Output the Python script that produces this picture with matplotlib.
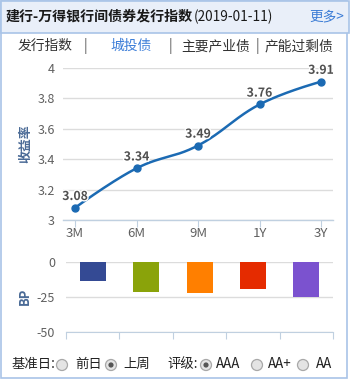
import numpy as np
import matplotlib
matplotlib.use("Agg")
import matplotlib.pyplot as plt
from matplotlib.patches import Rectangle, Circle
import matplotlib.patheffects as pe

plt.rcParams['font.family'] = ['Noto Sans CJK SC', 'DejaVu Sans']

# ---- data ----
terms = ["3M", "6M", "9M", "1Y", "3Y"]
yields = [3.08, 3.34, 3.49, 3.76, 3.91]
bp_change = [-13.4, -21.3, -21.9, -19.1, -24.8]
bar_colors = ["#344a94", "#8aa30a", "#ff7f00", "#e52b00", "#7b52cf"]
y_ticks = [3, 3.2, 3.4, 3.6, 3.8, 4]
bp_ticks = [0, -25, -50]
tabs = ["发行指数", "城投债", "主要产业债", "产能过剩债"]

W, H = 350, 379
fig = plt.figure(figsize=(W / 100, H / 100), dpi=100)
fig.patch.set_facecolor("white")

def fax(l, t, r, b):
    return fig.add_axes([l / W, 1 - b / H, (r - l) / W, (b - t) / H])

# full-figure overlay in pixel coordinates
ov = fig.add_axes([0, 0, 1, 1], zorder=-1)
ov.set_xlim(0, W)
ov.set_ylim(H, 0)
ov.axis("off")

border = "#a9c4e8"
ov.add_patch(Rectangle((0.5, 0.5), 346.5, 377, fill=False, ec=border, lw=1.2))
ov.add_patch(Rectangle((0.5, 0.5), 348, 32, fc="#e9eff9", ec=border, lw=1.2))

title = ov.text(6, 17, "建行-万得银行间债券发行指数", fontsize=10.1, fontweight="bold",
                color="#1a1a1a", va="center", ha="left")
ov.annotate("(2019-01-11)", xy=(1, 0.5), xycoords=title, xytext=(0.5, 0),
            textcoords="offset points", fontsize=9.8, color="#1a1a1a",
            va="center", ha="left")
ov.text(344, 16, "更多>", fontsize=9.8, color="#3a7bd5", va="center", ha="right")

# tab row
tab_x = [18, 110, 181, 265]
tab_col = ["#333333", "#3b7dd8", "#333333", "#333333"]
for x, t, c in zip(tab_x, tabs, tab_col):
    ov.text(x, 46, t, fontsize=9.9, color=c, va="center", ha="left")
for x in [85, 170, 257]:
    ov.text(x, 46, "|", fontsize=9.9, color="#555555", va="center", ha="center")

# ---- line chart ----
ax = fax(63, 68, 333, 220)
xs = np.arange(len(terms))
ax.set_xlim(-12 / 61.5, 4 + 12 / 61.5)
ax.set_ylim(3, 4)


def spline(xv, yv, smoothing=1.5, n=40):
    xv = np.asarray(xv, float)
    yv = np.asarray(yv, float)
    m = len(xv)
    lc = [(xv[i], yv[i]) for i in range(m)]
    rc = [(xv[i], yv[i]) for i in range(m)]
    d = smoothing + 1
    for i in range(1, m - 1):
        lx = (smoothing * xv[i] + xv[i - 1]) / d
        ly = (smoothing * yv[i] + yv[i - 1]) / d
        rx = (smoothing * xv[i] + xv[i + 1]) / d
        ry = (smoothing * yv[i] + yv[i + 1]) / d
        if rx != lx:
            corr = (ry - ly) * (rx - xv[i]) / (rx - lx) + yv[i] - ry
            ly += corr
            ry += corr
        lc[i] = (lx, ly)
        rc[i] = (rx, ry)
    px, py = [], []
    t = np.linspace(0, 1, n)
    for i in range(m - 1):
        p0 = np.array([xv[i], yv[i]])
        p1 = np.array(rc[i])
        p2 = np.array(lc[i + 1])
        p3 = np.array([xv[i + 1], yv[i + 1]])
        pts = ((1 - t) ** 3)[:, None] * p0 + (3 * (1 - t) ** 2 * t)[:, None] * p1 \
            + (3 * (1 - t) * t ** 2)[:, None] * p2 + (t ** 3)[:, None] * p3
        px.extend(pts[:, 0])
        py.extend(pts[:, 1])
    return px, py


sx, sy = spline(xs, yields)
line_col = "#1b6ab3"
ax.plot(sx, sy, color=line_col, lw=1.8, zorder=3, clip_on=False)
ax.plot(xs, yields, "o", color=line_col, ms=5, zorder=4, clip_on=False)
for x, v in zip(xs, yields):
    ax.annotate(f"{v:.2f}", (x, v), xytext=(0, 3.5), textcoords="offset points",
                ha="center", va="bottom", fontsize=8.8, fontweight="bold",
                color="#505050", zorder=5,
                path_effects=[pe.withStroke(linewidth=2, foreground="white")])

ax.set_yticks(y_ticks)
ax.set_yticklabels([f"{v:g}" for v in y_ticks])
ax.set_xticks(xs)
ax.set_xticklabels(terms)
ax.grid(axis="y", color="#dcdcdc", lw=1)
ax.set_axisbelow(True)
for s in ["top", "right", "left"]:
    ax.spines[s].set_visible(False)
ax.spines["bottom"].set_color("#c0d0e0")
ax.spines["bottom"].set_linewidth(1)
ax.tick_params(axis="y", length=0, labelsize=9, labelcolor="#606060", pad=6)
ax.tick_params(axis="x", length=5, color="#c0d0e0", labelsize=9.5,
               labelcolor="#606060", pad=0)
ov.text(25, 144, "收益率", rotation=90, fontsize=9.3, fontweight="bold",
        color="#4a6a96", ha="center", va="center")

# ---- bar chart ----
bx = fax(66, 262.3, 333, 332)
bx.set_xlim(-0.5, 4.5)
bx.set_ylim(-50, 0)
bx.bar(xs, bp_change, width=26 / 53.4, color=bar_colors, zorder=3, clip_on=False)
bx.set_yticks(bp_ticks)
bx.set_yticklabels([f"{v:g}" for v in bp_ticks])
bx.set_xticks(np.arange(-0.5, 5, 1))
bx.set_xticklabels([])
bx.grid(axis="y", color="#dcdcdc", lw=1)
bx.set_axisbelow(True)
for s in ["top", "right", "left"]:
    bx.spines[s].set_visible(False)
bx.spines["bottom"].set_color("#c0d0e0")
bx.tick_params(axis="y", length=0, labelsize=9, labelcolor="#606060", pad=8)
bx.tick_params(axis="x", length=5, color="#c0d0e0")
ov.text(25, 296, "BP", rotation=90, fontsize=9.3, fontweight="bold",
        color="#4a6a96", ha="center", va="center")

# ---- bottom option row ----
ry = 364
txt_col = "#222222"
ov.text(11, ry, "基准日:", fontsize=9.6, color=txt_col, ha="left", va="center")
ov.text(75, ry, "前日", fontsize=9.6, color=txt_col, ha="left", va="center")
ov.text(123, ry, "上周", fontsize=9.6, color=txt_col, ha="left", va="center")
ov.text(167, ry, "评级:", fontsize=9.6, color=txt_col, ha="left", va="center")
ov.text(216, ry, "AAA", fontsize=9.6, color=txt_col, ha="left", va="center")
ov.text(268, ry, "AA+", fontsize=9.6, color=txt_col, ha="left", va="center")
ov.text(316, ry, "AA", fontsize=9.6, color=txt_col, ha="left", va="center")
radios = [(62, False), (111, True), (206, True), (257, False), (303, False)]
for x, on in radios:
    ov.add_patch(Circle((x, ry + 1), 5.5, fc="#e4e4e4", ec="#a8a8a8", lw=0.9))
    if on:
        ov.add_patch(Circle((x, ry + 1), 2.6, fc="#555555", ec="none"))

fig.savefig("out.png", dpi=100)
